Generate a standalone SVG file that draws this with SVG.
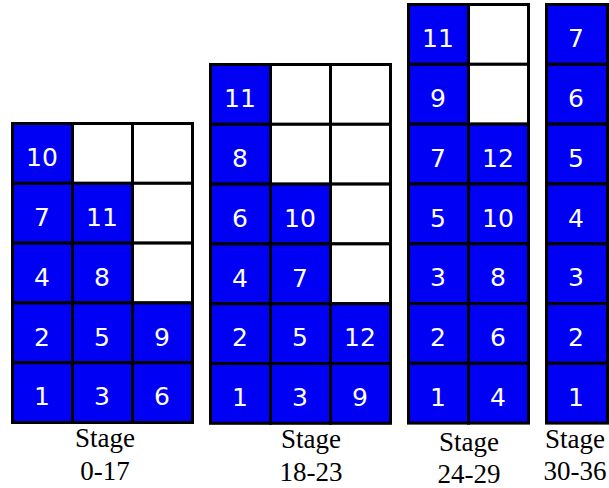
<svg xmlns="http://www.w3.org/2000/svg" width="609" height="488" viewBox="0 0 609 488">
<style>
.b{fill:#0000f5;stroke:#000;stroke-width:3}
.w{fill:#fff;stroke:#000;stroke-width:3}
.n{font-family:"DejaVu Sans",sans-serif;font-size:25px;fill:#fff;text-anchor:middle}
.l{font-family:"Liberation Serif",serif;font-size:27px;fill:#000;text-anchor:middle}
</style>
<rect width="609" height="488" fill="#fff"/>
<g id="stage-0-17">
<rect class="b" x="12.5" y="123.5" width="60" height="59.8"/><rect class="w" x="72.5" y="123.5" width="60" height="59.8"/><rect class="w" x="132.5" y="123.5" width="60" height="59.8"/>
<rect class="b" x="12.5" y="183.3" width="60" height="59.8"/><rect class="b" x="72.5" y="183.3" width="60" height="59.8"/><rect class="w" x="132.5" y="183.3" width="60" height="59.8"/>
<rect class="b" x="12.5" y="243.1" width="60" height="59.8"/><rect class="b" x="72.5" y="243.1" width="60" height="59.8"/><rect class="w" x="132.5" y="243.1" width="60" height="59.8"/>
<rect class="b" x="12.5" y="302.9" width="60" height="59.8"/><rect class="b" x="72.5" y="302.9" width="60" height="59.8"/><rect class="b" x="132.5" y="302.9" width="60" height="59.8"/>
<rect class="b" x="12.5" y="362.7" width="60" height="59.8"/><rect class="b" x="72.5" y="362.7" width="60" height="59.8"/><rect class="b" x="132.5" y="362.7" width="60" height="59.8"/>
<text class="n" x="42" y="166">10</text>
<text class="n" x="42" y="226">7</text><text class="n" x="102" y="226">11</text>
<text class="n" x="42" y="286">4</text><text class="n" x="102" y="286">8</text>
<text class="n" x="42" y="345.5">2</text><text class="n" x="102" y="345.5">5</text><text class="n" x="162" y="345.5">9</text>
<text class="n" x="42" y="405">1</text><text class="n" x="102" y="405">3</text><text class="n" x="162" y="405">6</text>
<text class="l" x="105" y="447">Stage</text><text class="l" x="105" y="480">0-17</text>
</g>
<g id="stage-18-23">
<rect class="b" x="210.5" y="64.5" width="60" height="59.8"/><rect class="w" x="270.5" y="64.5" width="60" height="59.8"/><rect class="w" x="330.5" y="64.5" width="60" height="59.8"/>
<rect class="b" x="210.5" y="124.3" width="60" height="59.8"/><rect class="w" x="270.5" y="124.3" width="60" height="59.8"/><rect class="w" x="330.5" y="124.3" width="60" height="59.8"/>
<rect class="b" x="210.5" y="184.1" width="60" height="59.8"/><rect class="b" x="270.5" y="184.1" width="60" height="59.8"/><rect class="w" x="330.5" y="184.1" width="60" height="59.8"/>
<rect class="b" x="210.5" y="243.9" width="60" height="59.8"/><rect class="b" x="270.5" y="243.9" width="60" height="59.8"/><rect class="w" x="330.5" y="243.9" width="60" height="59.8"/>
<rect class="b" x="210.5" y="303.7" width="60" height="59.8"/><rect class="b" x="270.5" y="303.7" width="60" height="59.8"/><rect class="b" x="330.5" y="303.7" width="60" height="59.8"/>
<rect class="b" x="210.5" y="363.5" width="60" height="59.8"/><rect class="b" x="270.5" y="363.5" width="60" height="59.8"/><rect class="b" x="330.5" y="363.5" width="60" height="59.8"/>
<text class="n" x="240" y="107">11</text>
<text class="n" x="240" y="167">8</text>
<text class="n" x="240" y="227">6</text><text class="n" x="300" y="227">10</text>
<text class="n" x="240" y="286.5">4</text><text class="n" x="300" y="286.5">7</text>
<text class="n" x="240" y="346">2</text><text class="n" x="300" y="346">5</text><text class="n" x="360" y="346">12</text>
<text class="n" x="240" y="406">1</text><text class="n" x="300" y="406">3</text><text class="n" x="360" y="406">9</text>
<text class="l" x="311" y="448">Stage</text><text class="l" x="311" y="481">18-23</text>
</g>
<g id="stage-24-29">
<rect class="b" x="408.5" y="4.5" width="60" height="59.8"/><rect class="w" x="468.5" y="4.5" width="60" height="59.8"/>
<rect class="b" x="408.5" y="64.3" width="60" height="59.8"/><rect class="w" x="468.5" y="64.3" width="60" height="59.8"/>
<rect class="b" x="408.5" y="124.1" width="60" height="59.8"/><rect class="b" x="468.5" y="124.1" width="60" height="59.8"/>
<rect class="b" x="408.5" y="183.9" width="60" height="59.8"/><rect class="b" x="468.5" y="183.9" width="60" height="59.8"/>
<rect class="b" x="408.5" y="243.7" width="60" height="59.8"/><rect class="b" x="468.5" y="243.7" width="60" height="59.8"/>
<rect class="b" x="408.5" y="303.5" width="60" height="59.8"/><rect class="b" x="468.5" y="303.5" width="60" height="59.8"/>
<rect class="b" x="408.5" y="363.3" width="60" height="59.8"/><rect class="b" x="468.5" y="363.3" width="60" height="59.8"/>
<text class="n" x="438" y="47">11</text>
<text class="n" x="438" y="107">9</text>
<text class="n" x="438" y="167">7</text><text class="n" x="498" y="167">12</text>
<text class="n" x="438" y="226.5">5</text><text class="n" x="498" y="226.5">10</text>
<text class="n" x="438" y="286">3</text><text class="n" x="498" y="286">8</text>
<text class="n" x="438" y="346">2</text><text class="n" x="498" y="346">6</text>
<text class="n" x="438" y="406">1</text><text class="n" x="498" y="406">4</text>
<text class="l" x="469" y="450.5">Stage</text><text class="l" x="469" y="483">24-29</text>
</g>
<g id="stage-30-36">
<rect class="b" x="546.5" y="4.5" width="61" height="59.8"/>
<rect class="b" x="546.5" y="64.3" width="61" height="59.8"/>
<rect class="b" x="546.5" y="124.1" width="61" height="59.8"/>
<rect class="b" x="546.5" y="183.9" width="61" height="59.8"/>
<rect class="b" x="546.5" y="243.7" width="61" height="59.8"/>
<rect class="b" x="546.5" y="303.5" width="61" height="59.8"/>
<rect class="b" x="546.5" y="363.3" width="61" height="59.8"/>
<text class="n" x="576" y="47">7</text>
<text class="n" x="576" y="107">6</text>
<text class="n" x="576" y="167">5</text>
<text class="n" x="576" y="226.5">4</text>
<text class="n" x="576" y="286">3</text>
<text class="n" x="576" y="346">2</text>
<text class="n" x="576" y="406">1</text>
<text class="l" x="575" y="448">Stage</text><text class="l" x="575" y="480">30-36</text>
</g>
</svg>
